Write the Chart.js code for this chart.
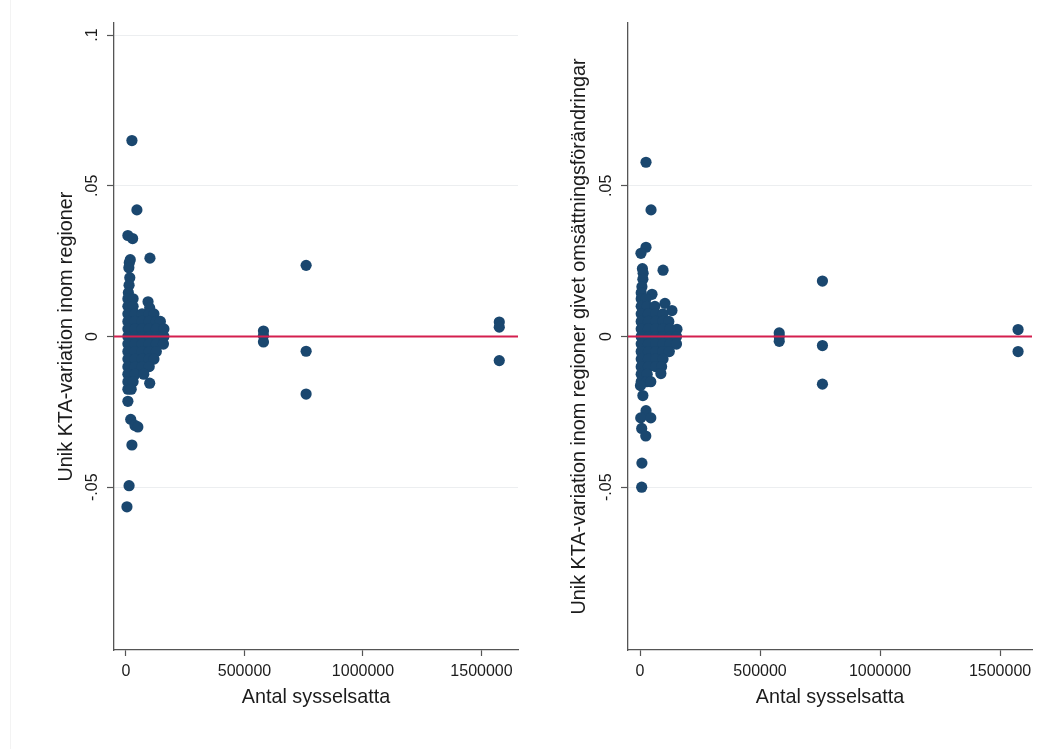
<!DOCTYPE html>
<html>
<head>
<meta charset="utf-8">
<script src="https://cdn.jsdelivr.net/npm/chart.js@4.4.1/dist/chart.umd.min.js"></script>
<style>
  html, body { margin: 0; padding: 0; background: #fff; }
  #wrap { position: relative; width: 1051px; height: 749px; overflow: hidden; }
  #edge { position: absolute; left: 10px; top: 0; width: 1px; height: 749px; background: #f3f3f3; }
  canvas { position: absolute; top: 0; }
  #leftChart { left: 0; }
  #rightChart { left: 525px; }
</style>
</head>
<body>
<div id="wrap">
  <div id="edge"></div>
  <canvas id="leftChart" width="525" height="749"></canvas>
  <canvas id="rightChart" width="526" height="749"></canvas>
</div>
<script>
// Left panel: antal sysselsatta (x) vs unik KTA-variation inom regioner (y)
const leftEmp = [
  25000, 46000, 8000, 28000, 101000, 18000, 14000, 12000, 16000, 13000, 10000, 93000, 100000,
  8000, 30000,
  8000, 30000,
  8000, 38000, 68000, 98000, 118000,
  8000, 38000, 68000, 98000, 128000, 145000,
  8000, 38000, 68000, 98000, 128000, 160000,
  8000, 38000, 68000, 98000, 128000, 160000,
  8000, 38000, 68000, 98000, 128000, 158000,
  8000, 38000, 68000, 98000, 128000,
  8000, 38000, 68000, 98000, 118000,
  8000, 38000, 68000, 98000,
  8000, 38000, 75000,
  8000, 30000, 100000,
  8000, 22000,
  8000, 20000, 38000, 50000, 25000, 13000, 4000,
  580000, 580000, 580000,
  760000, 760000, 760000,
  1575000, 1575000, 1575000
];
const leftKta = [
  0.065, 0.042, 0.0335, 0.0325, 0.026, 0.0255, 0.0245, 0.0228, 0.0195, 0.017, 0.0145, 0.0115, 0.0095,
  0.0125, 0.0125,
  0.010, 0.010,
  0.0075, 0.0075, 0.0075, 0.0075, 0.0075,
  0.005, 0.005, 0.005, 0.005, 0.005, 0.005,
  0.0025, 0.0025, 0.0025, 0.0025, 0.0025, 0.0025,
  0.0, 0.0, 0.0, 0.0, 0.0, 0.0,
  -0.0025, -0.0025, -0.0025, -0.0025, -0.0025, -0.0025,
  -0.005, -0.005, -0.005, -0.005, -0.005,
  -0.0075, -0.0075, -0.0075, -0.0075, -0.0075,
  -0.010, -0.010, -0.010, -0.010,
  -0.0125, -0.0125, -0.0125,
  -0.015, -0.015, -0.0155,
  -0.0175, -0.0175,
  -0.0215, -0.0275, -0.0295, -0.030, -0.036, -0.0495, -0.0565,
  0.0018, 0.0003, -0.0018,
  0.0236, -0.0049, -0.0191,
  0.0048, 0.0031, -0.008
];

// Right panel: same x, KTA-variation given changes in turnover
const rightEmp = [
  25000, 46000, 25000, 4000, 96000, 10000, 13000, 12000, 8000, 50000, 104000, 133000, 154000,
  5000,
  5000, 25000,
  5000, 30000, 62000,
  5000, 35000, 65000, 95000,
  5000, 35000, 65000, 95000, 120000,
  5000, 35000, 65000, 95000, 125000,
  5000, 35000, 65000, 95000, 125000, 152000,
  5000, 35000, 65000, 95000, 125000, 152000,
  5000, 35000, 65000, 95000, 122000,
  5000, 35000, 65000, 96000,
  5000, 35000, 65000, 90000,
  5000, 30000, 87000,
  5000, 28000, 45000,
  2000, 12000, 25000, 3000, 45000, 7000, 24000, 8000, 7000,
  580000, 580000, 580000,
  760000, 760000, 760000,
  1575000, 1575000
];
const rightKta = [
  0.0578, 0.042, 0.0296, 0.0276, 0.022, 0.0225, 0.021, 0.019, 0.0165, 0.014, 0.011, 0.0086, 0.0024,
  0.0145,
  0.0125, 0.0125,
  0.010, 0.010, 0.010,
  0.0075, 0.0075, 0.0075, 0.0075,
  0.005, 0.005, 0.005, 0.005, 0.005,
  0.0025, 0.0025, 0.0025, 0.0025, 0.0025,
  0.0, 0.0, 0.0, 0.0, 0.0, 0.0,
  -0.0025, -0.0025, -0.0025, -0.0025, -0.0025, -0.0025,
  -0.005, -0.005, -0.005, -0.005, -0.005,
  -0.0075, -0.0075, -0.0075, -0.0075,
  -0.010, -0.010, -0.010, -0.010,
  -0.0125, -0.0125, -0.0123,
  -0.015, -0.015, -0.015,
  -0.0163, -0.0196, -0.0246, -0.027, -0.027, -0.0305, -0.033, -0.042, -0.050,
  0.0012, 0.0, -0.0016,
  0.0184, -0.003, -0.0158,
  0.0023, -0.005
];

const xTicks = [0, 500000, 1000000, 1500000];
const leftYTicks = [-0.05, 0, 0.05, 0.1];
const rightYTicks = [-0.05, 0, 0.05];
const xTitle = 'Antal sysselsatta';
const leftYTitle = 'Unik KTA-variation inom regioner';
const rightYTitle = 'Unik KTA-variation inom regioner givet omsättningsförändringar';

const FONT = "'Liberation Sans', Arial, sans-serif";
const NAVY = '#1a476f';
const TEXT = '#1c1c1c';
const AXIS = '#555555';

// Stata style labels: .1 .05 0 -.05
function stataLabel(v) {
  if (Math.abs(v) < 1e-12) return '0';
  let s = String(Math.round(v * 1000) / 1000);
  return s.replace('0.', '.');
}

// rotated y tick labels + red zero line
const stataPlugin = {
  id: 'stataExtras',
  afterDatasetsDraw(chart) {
    const { ctx, chartArea, scales } = chart;
    const y0 = scales.y.getPixelForValue(0);
    ctx.save();
    ctx.strokeStyle = '#d41f4e';
    ctx.lineWidth = 2;
    ctx.beginPath();
    ctx.moveTo(chartArea.left, y0);
    ctx.lineTo(chartArea.right, y0);
    ctx.stroke();
    ctx.restore();
  },
  afterDraw(chart) {
    const { ctx, chartArea, scales } = chart;
    const ticks = chart.options.plugins.stataExtras.yTicks;
    ctx.save();
    ctx.fillStyle = TEXT;
    ctx.font = '16px ' + FONT;
    ctx.textAlign = 'center';
    ctx.textBaseline = 'middle';
    ticks.forEach(v => {
      const py = scales.y.getPixelForValue(v);
      ctx.save();
      ctx.translate(chartArea.left - 21, py);
      ctx.rotate(-Math.PI / 2);
      ctx.fillText(stataLabel(v), 0, 0);
      ctx.restore();
    });
    ctx.restore();
  }
};

function makeChart(canvasId, emp, kta, yTicks, yTitle, opt) {
  const points = emp.map((x, i) => ({ x: x, y: kta[i] }));
  return new Chart(document.getElementById(canvasId), {
    type: 'scatter',
    data: {
      datasets: [{
        data: points,
        pointRadius: 5.6,
        pointHoverRadius: 5.6,
        pointBackgroundColor: NAVY,
        pointBorderWidth: 0,
        borderWidth: 0
      }]
    },
    options: {
      responsive: false,
      animation: false,
      events: [],
      layout: { padding: { left: 0, top: 23, right: opt.padRight, bottom: 0 } },
      plugins: {
        legend: { display: false },
        tooltip: { enabled: false },
        stataExtras: { yTicks: yTicks }
      },
      scales: {
        x: {
          type: 'linear',
          min: opt.xMin,
          max: opt.xMax,
          afterBuildTicks: s => { s.ticks = xTicks.map(v => ({ value: v })); },
          afterFit: s => { s.height = 99; },
          grid: { drawOnChartArea: false, drawTicks: true, tickLength: 6, tickColor: AXIS, tickWidth: 1.2 },
          border: { display: true, color: AXIS, width: 1.3 },
          ticks: {
            color: TEXT,
            font: { family: FONT, size: 16 },
            padding: 6,
            maxRotation: 0,
            autoSkip: false,
            callback: v => String(v)
          },
          title: {
            display: true,
            text: xTitle,
            color: TEXT,
            font: { family: FONT, size: 19.8 },
            padding: { top: 0, bottom: 40 }
          }
        },
        y: {
          type: 'linear',
          min: -0.104,
          max: 0.104,
          afterBuildTicks: s => { s.ticks = yTicks.map(v => ({ value: v })); },
          afterFit: s => { s.width = opt.yWidth; },
          grid: {
            color: '#eceef0',
            lineWidth: 1,
            drawTicks: true,
            tickLength: 7,
            tickColor: AXIS,
            tickWidth: 1.2
          },
          border: { display: true, color: AXIS, width: 1.3 },
          ticks: { display: false },
          title: {
            display: true,
            text: yTitle,
            color: TEXT,
            font: { family: FONT, size: 19.8 },
            padding: { top: opt.titlePad, bottom: 0 }
          }
        }
      }
    },
    plugins: [stataPlugin]
  });
}

document.addEventListener('DOMContentLoaded', () => {
  makeChart('leftChart', leftEmp, leftKta, leftYTicks, leftYTitle,
    { xMin: -50600, xMax: 1654000, padRight: 7, yWidth: 114, titlePad: 55 });
  makeChart('rightChart', rightEmp, rightKta, rightYTicks, rightYTitle,
    { xMin: -50000, xMax: 1633000, padRight: 19, yWidth: 103, titlePad: 43 });
});
</script>
</body>
</html>
